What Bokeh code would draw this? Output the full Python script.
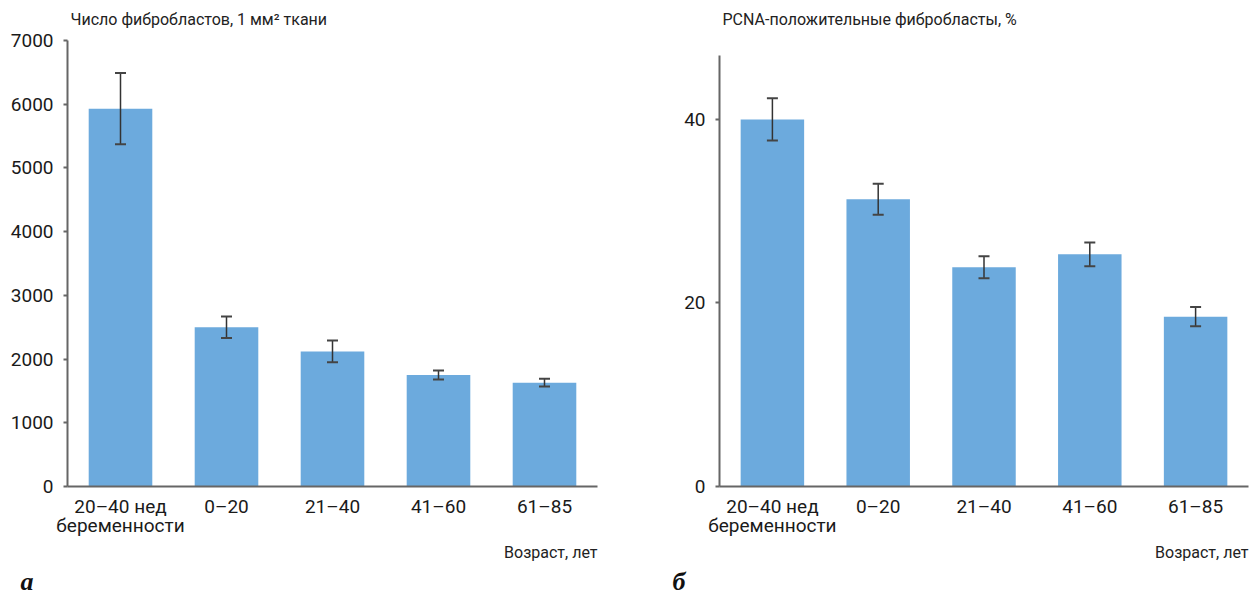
from bokeh.plotting import figure
from bokeh.models import Range1d, FactorRange, FixedTicker, Whisker, TeeHead, ColumnDataSource, Title
from bokeh.layouts import row
from bokeh.embed import file_html
from bokeh.resources import INLINE

categories = ["20–40 нед\nбеременности", "0–20", "21–40", "41–60", "61–85"]
fib_count = [5930, 2500, 2120, 1750, 1630]
fib_err = [560, 170, 170, 70, 60]
pcna = [40.0, 31.3, 23.9, 25.3, 18.5]
pcna_err = [2.3, 1.7, 1.2, 1.3, 1.05]

title_a = "Число фибробластов, 1 мм² ткани"
title_b = "PCNA-положительные фибробласты, %"
xlabel = "Возраст, лет"
ticks_a = [0, 1000, 2000, 3000, 4000, 5000, 6000, 7000]
ticks_b = [0, 20, 40]

BAR = "#6CAADD"
AXIS = "#666666"
FONT = "Roboto"


def panel(vals, errs, yview, ybounds, ticks, title, letter, width, left, right, letter_offset):
    p = figure(x_range=FactorRange(*categories, range_padding=0), y_range=Range1d(0, yview),
               width=width, height=597, output_backend="svg", toolbar_location=None,
               min_border_left=left, min_border_right=right, min_border_top=40,
               min_border_bottom=111)
    p.title.text = title
    p.title.align = "left"
    p.title.vertical_align = "top"
    p.title.offset = 3
    p.title.text_font = FONT
    p.title.text_font_size = "16px"
    p.title.text_font_style = "normal"
    p.title.text_color = "#222222"
    p.title.standoff = 19
    src = ColumnDataSource(dict(cat=categories, val=vals,
                                upper=[v + e for v, e in zip(vals, errs)],
                                lower=[v - e for v, e in zip(vals, errs)]))
    p.vbar(x="cat", top="val", width=0.6, source=src, fill_color=BAR, line_color=None)
    w = Whisker(base="cat", upper="upper", lower="lower", source=src, level="overlay",
                line_color="#333333", line_width=1.5,
                upper_head=TeeHead(size=11, line_color="#444444", line_width=2),
                lower_head=TeeHead(size=11, line_color="#444444", line_width=2))
    p.add_layout(w)
    p.xgrid.visible = False
    p.ygrid.visible = False
    p.outline_line_color = None
    p.yaxis.ticker = FixedTicker(ticks=ticks)
    p.yaxis.bounds = ybounds
    p.yaxis.minor_tick_line_color = None
    p.yaxis.major_tick_out = 4
    p.yaxis.major_tick_in = 0
    p.yaxis.major_label_standoff = 10
    for ax in (p.xaxis, p.yaxis):
        ax.axis_line_color = AXIS
        ax.axis_line_width = 2
        ax.major_tick_line_color = AXIS
        ax.major_tick_line_width = 2
        ax.major_label_text_font = FONT
        ax.major_label_text_font_size = "19px"
        ax.major_label_text_color = "#1a1a1a"
    p.xaxis.major_tick_out = 0
    p.xaxis.major_tick_in = 0
    p.xaxis.major_label_standoff = 8
    p.xaxis.major_label_text_line_height = 0.85
    p.xaxis.minor_tick_line_color = None
    p.add_layout(Title(text=xlabel, align="right", vertical_align="top", offset=0,
                       text_font=FONT, text_font_size="16px",
                       text_font_style="normal", text_color="#222222", standoff=5), "below")
    p.add_layout(Title(text=letter, align="left", vertical_align="top", offset=letter_offset,
                       text_font="Liberation Serif", text_font_size="26px",
                       text_font_style="bold italic", text_color="#111111", standoff=0), "below")
    return p


pa = panel(fib_count, fib_err, 7000, (0, 7000), ticks_a, title_a, "а", 640, 67, 43, -47)
pb = panel(pcna, pcna_err, 48.6, (0, 47), ticks_b, title_b, "б", 619, 79, 11, -47)

layout = row(pa, pb, spacing=0)
open("out.html", "w").write(file_html(layout, INLINE))
